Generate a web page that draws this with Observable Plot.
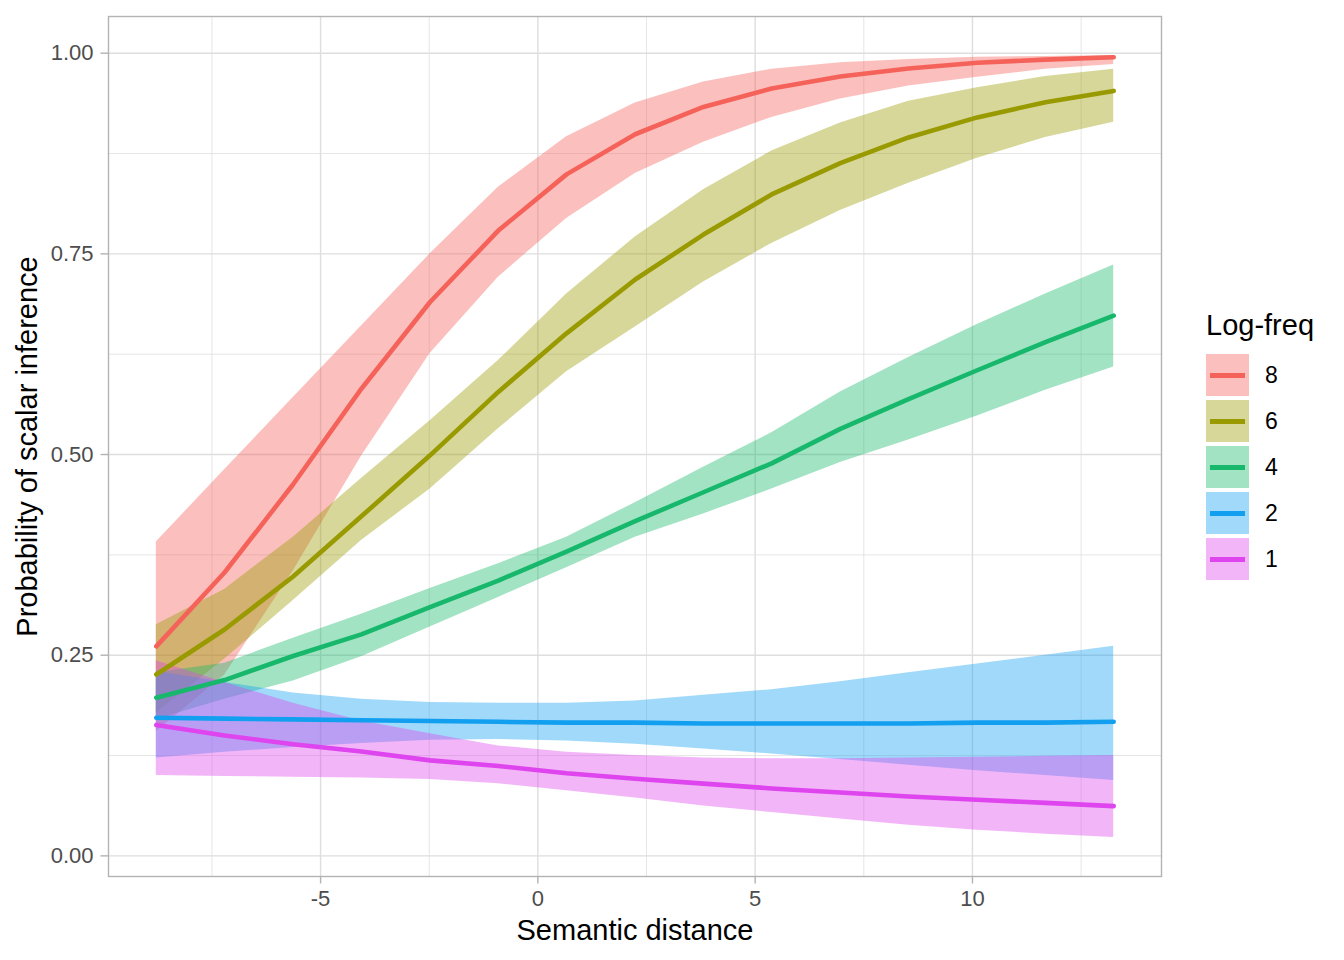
<!DOCTYPE html>
<html>
<head>
<meta charset="utf-8">
<script src="https://cdn.jsdelivr.net/npm/d3@7"></script>
<script src="https://cdn.jsdelivr.net/npm/@observablehq/plot@0.6"></script>
<style>
  body { margin: 0; background: #fff; }
  #wrap { position: relative; width: 1344px; height: 960px; font-family: "Liberation Sans", Arial, sans-serif; }
  #legend { position: absolute; left: 1206px; top: 308px; }
  #legend .title { font-size: 29px; color: #000; line-height: 34px; height: 44px; }
  #legend .row { display: flex; align-items: center; height: 46px; }
  #legend .key { position: relative; width: 43px; height: 42px; }
  #legend .key .bg { position: absolute; inset: 0; }
  #legend .key .ln { position: absolute; left: 4px; right: 4px; top: 18.5px; height: 5px; }
  #legend .lab { margin-left: 16px; font-size: 23px; color: #000; }
</style>
</head>
<body>
<div id="wrap"></div>
<script>
// Semantic distance values (x)
const xs = [-8.78, -7.21, -5.63, -4.06, -2.48, -0.91, 0.66, 2.24, 3.81, 5.38, 6.96, 8.53, 10.11, 11.68, 13.25];

// Legend levels and colours
const levels = ["8", "6", "4", "2", "1"];
const colors = ["#F5625A", "#999A00", "#17B86C", "#129FF0", "#DE45EE"];

// Log-freq 8
const fit8 = [0.261, 0.353, 0.463, 0.582, 0.690, 0.779, 0.849, 0.899, 0.933, 0.956, 0.971, 0.981, 0.988, 0.992, 0.995];
const lo8  = [0.155, 0.225, 0.355, 0.498, 0.626, 0.721, 0.794, 0.850, 0.889, 0.920, 0.943, 0.959, 0.970, 0.980, 0.986];
const hi8  = [0.391, 0.481, 0.571, 0.660, 0.750, 0.833, 0.896, 0.938, 0.964, 0.980, 0.988, 0.992, 0.995, 0.996, 0.997];
// Log-freq 6
const fit6 = [0.226, 0.282, 0.348, 0.423, 0.499, 0.578, 0.651, 0.718, 0.774, 0.824, 0.863, 0.895, 0.920, 0.939, 0.953];
const lo6  = [0.178, 0.245, 0.318, 0.393, 0.457, 0.532, 0.603, 0.659, 0.715, 0.763, 0.804, 0.838, 0.869, 0.895, 0.914];
const hi6  = [0.288, 0.332, 0.397, 0.470, 0.542, 0.617, 0.700, 0.771, 0.830, 0.878, 0.913, 0.940, 0.957, 0.971, 0.980];
// Log-freq 4
const fit4 = [0.197, 0.219, 0.249, 0.276, 0.310, 0.343, 0.379, 0.417, 0.453, 0.489, 0.532, 0.569, 0.605, 0.640, 0.673];
const lo4  = [0.170, 0.195, 0.218, 0.248, 0.285, 0.322, 0.359, 0.397, 0.426, 0.457, 0.490, 0.518, 0.548, 0.580, 0.609];
const hi4  = [0.228, 0.240, 0.271, 0.301, 0.333, 0.364, 0.397, 0.440, 0.484, 0.527, 0.578, 0.621, 0.662, 0.700, 0.736];
// Log-freq 2
const fit2 = [0.172, 0.171, 0.170, 0.169, 0.168, 0.167, 0.166, 0.166, 0.165, 0.165, 0.165, 0.165, 0.166, 0.166, 0.167];
const lo2  = [0.122, 0.129, 0.135, 0.140, 0.144, 0.145, 0.143, 0.139, 0.133, 0.127, 0.120, 0.113, 0.106, 0.100, 0.094];
const hi2  = [0.230, 0.216, 0.203, 0.195, 0.191, 0.190, 0.190, 0.193, 0.200, 0.207, 0.217, 0.228, 0.239, 0.250, 0.261];
// Log-freq 1
const fit1 = [0.163, 0.150, 0.139, 0.130, 0.119, 0.112, 0.103, 0.096, 0.090, 0.084, 0.079, 0.074, 0.070, 0.066, 0.062];
const lo1  = [0.100, 0.099, 0.098, 0.097, 0.095, 0.090, 0.081, 0.072, 0.062, 0.054, 0.046, 0.038, 0.032, 0.027, 0.023];
const hi1  = [0.243, 0.216, 0.190, 0.168, 0.152, 0.137, 0.129, 0.125, 0.122, 0.121, 0.121, 0.122, 0.123, 0.124, 0.125];

// Tick values / labels
const xMajor = [-5, 0, 5, 10];
const xMinor = [-7.5, -2.5, 2.5, 7.5, 12.5];
const yMajor = [0, 0.25, 0.5, 0.75, 1];
const yMinor = [0.125, 0.375, 0.625, 0.875];

const series = {
  "8": [fit8, lo8, hi8],
  "6": [fit6, lo6, hi6],
  "4": [fit4, lo4, hi4],
  "2": [fit2, lo2, hi2],
  "1": [fit1, lo1, hi1]
};

const rows = [];
for (const lev of levels) {
  const [f, l, h] = series[lev];
  xs.forEach((x, i) => rows.push({x, freq: lev, fit: f[i], lo: l[i], hi: h[i]}));
}

const font = '"Liberation Sans", Arial, sans-serif';

const chart = Plot.plot({
  width: 1344,
  height: 960,
  marginLeft: 108,
  marginRight: 183,
  marginTop: 16,
  marginBottom: 84,
  style: {fontFamily: font, background: "#fff", overflow: "visible"},
  x: {domain: [-9.88, 14.35]},
  y: {domain: [-0.0257, 1.0457]},
  color: {domain: levels, range: colors},
  marks: [
    Plot.gridY(yMinor, {stroke: "#DEDEDE", strokeOpacity: 1, strokeWidth: 0.75}),
    Plot.gridX(xMinor, {stroke: "#DEDEDE", strokeOpacity: 1, strokeWidth: 0.75}),
    Plot.gridY(yMajor, {stroke: "#DEDEDE", strokeOpacity: 1, strokeWidth: 1.4}),
    Plot.gridX(xMajor, {stroke: "#DEDEDE", strokeOpacity: 1, strokeWidth: 1.4}),
    Plot.areaY(rows, {x: "x", y1: "lo", y2: "hi", z: "freq", fill: "freq", fillOpacity: 0.4}),
    Plot.line(rows, {x: "x", y: "fit", z: "freq", stroke: "freq", strokeWidth: 4.6, strokeLinejoin: "round"}),
    Plot.frame({stroke: "#B3B3B3", strokeWidth: 1.4}),
    Plot.axisY(yMajor, {
      tickSize: 7.5, tickPadding: 7.5, stroke: "#B3B3B3", strokeWidth: 1.4,
      fill: "#4D4D4D", fontSize: 22, tickFormat: d3.format(".2f"), label: null
    }),
    Plot.axisX(xMajor, {
      tickSize: 7.5, tickPadding: 6, stroke: "#B3B3B3", strokeWidth: 1.4,
      fill: "#4D4D4D", fontSize: 22, tickFormat: d => d < 0 ? "-" + Math.abs(d) : String(d), label: null
    }),
    Plot.text(["Semantic distance"], {frameAnchor: "bottom", dy: 63, fontSize: 29, fill: "#000"}),
    Plot.text(["Probability of scalar inference"], {frameAnchor: "left", textAnchor: "middle", dx: -81, rotate: -90, fontSize: 29, fill: "#000"})
  ]
});

const wrap = document.getElementById("wrap");
wrap.appendChild(chart);

// Legend (HTML, built from the level/colour arrays)
const legend = document.createElement("div");
legend.id = "legend";
const t = document.createElement("div");
t.className = "title";
t.textContent = "Log-freq";
legend.appendChild(t);
levels.forEach((lev, i) => {
  const row = document.createElement("div");
  row.className = "row";
  const key = document.createElement("div");
  key.className = "key";
  const bg = document.createElement("div");
  bg.className = "bg";
  bg.style.background = colors[i];
  bg.style.opacity = 0.4;
  const ln = document.createElement("div");
  ln.className = "ln";
  ln.style.background = colors[i];
  key.appendChild(bg);
  key.appendChild(ln);
  const lab = document.createElement("div");
  lab.className = "lab";
  lab.textContent = lev;
  row.appendChild(key);
  row.appendChild(lab);
  legend.appendChild(row);
});
wrap.appendChild(legend);
</script>
</body>
</html>
